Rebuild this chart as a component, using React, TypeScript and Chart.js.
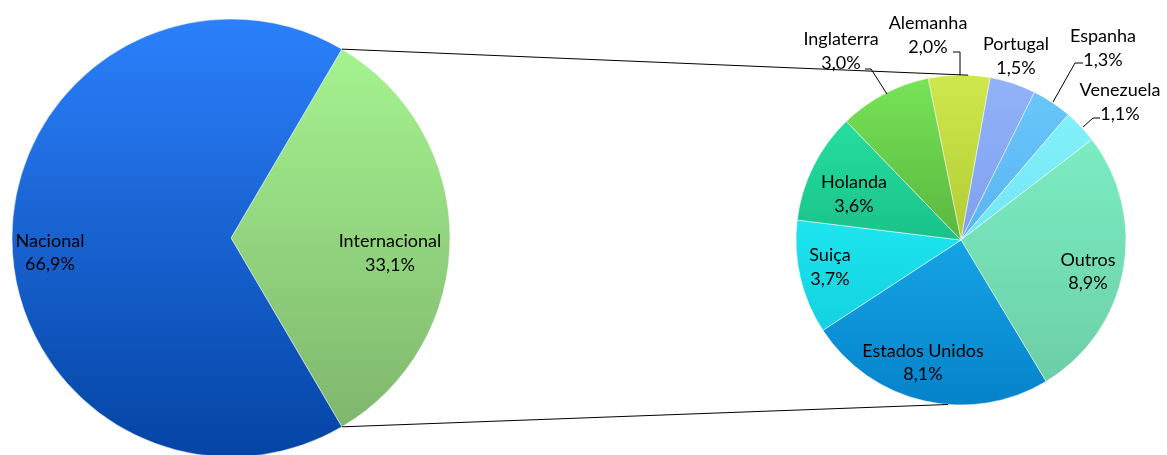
import React, { useEffect, useRef } from "react";
import { Chart, registerables } from "chart.js";

Chart.register(...registerables);

// ---- data ----
const mainLabels = ["Internacional", "Nacional"];
const mainValues = [33.1, 66.9];

const detailLabels = ["Alemanha", "Portugal", "Espanha", "Venezuela", "Outros", "Estados Unidos", "Suiça", "Holanda", "Inglaterra"];
const detailValues = [2.0, 1.5, 1.3, 1.1, 8.9, 8.1, 3.7, 3.6, 3.0];

// ---- styles / layout ----
const W = 1167;
const H = 455;
const FONT = "18px Lato";
const LINE_GAP = 11.75;

const mainRadius = 219;
const detailRadius = 165;

const mainColors: [string, string][] = [
  ["#a8f892", "#7cb26a"],
  ["#2c80fc", "#0444a4"],
];
const detailColors: [string, string][] = [
  ["#cee84c", "#98b020"],
  ["#92b2f8", "#6a8ee8"],
  ["#6ac8fa", "#4aa0e8"],
  ["#86f4fa", "#60d8f0"],
  ["#80f4ca", "#6acca4"],
  ["#24c6ff", "#0682ca"],
  ["#2affff", "#0cc4d8"],
  ["#2ae8a8", "#0a9c6a"],
  ["#78e458", "#3a8a24"],
];

// label anchors relative to the pie centre (dx, dy of the block centre), optional leader polyline
type LabelPos = { dx: number; dy: number; leader?: [number, number][] };
const mainLabelPos: LabelPos[] = [
  { dx: 159, dy: 21 },
  { dx: -181, dy: 20.5 },
];
const detailLabelPos: LabelPos[] = [
  { dx: -33, dy: -199, leader: [[-8, -188], [-1, -188], [-1, -165]] },
  { dx: 55, dy: -178 },
  { dx: 142, dy: -186, leader: [[122, -177], [114, -177], [92, -138]] },
  { dx: 159, dy: -132, leader: [[139, -122], [132, -122], [122, -113]] },
  { dx: 127, dy: 37.5 },
  { dx: -38, dy: 128.5 },
  { dx: -131, dy: 33 },
  { dx: -107, dy: -40 },
  { dx: -120, dy: -183, leader: [[-96, -171], [-90, -171], [-74, -146]] },
];

const fmt = (v: number) => v.toFixed(1).replace(".", ",") + "%";

function gradientFill(colors: [string, string][], radius: number) {
  return (ctx: any) => {
    const chart = ctx.chart;
    const area = chart.chartArea;
    const pair = colors[ctx.dataIndex % colors.length];
    if (!area) return pair[0];
    const cy = (area.top + area.bottom) / 2;
    const g = chart.ctx.createLinearGradient(0, cy - radius, 0, cy + radius);
    g.addColorStop(0, pair[0]);
    g.addColorStop(1, pair[1]);
    return g;
  };
}

function labelPlugin(id: string, labels: string[], values: number[], pos: LabelPos[]) {
  return {
    id,
    afterDatasetsDraw(chart: any) {
      const meta = chart.getDatasetMeta(0);
      const arc0 = meta.data[0];
      if (!arc0) return;
      const cx = arc0.x;
      const cy = arc0.y;
      const ctx = chart.ctx;
      ctx.save();
      ctx.font = FONT;
      ctx.fillStyle = "#000";
      ctx.textAlign = "center";
      ctx.textBaseline = "alphabetic";
      ctx.strokeStyle = "#000";
      ctx.lineWidth = 1;
      labels.forEach((lab, i) => {
        const p = pos[i];
        const x = cx + p.dx;
        const y = cy + p.dy;
        ctx.fillText(lab, x, y - LINE_GAP);
        ctx.fillText(fmt(values[i]), x, y + LINE_GAP);
        if (p.leader) {
          ctx.beginPath();
          p.leader.forEach(([lx, ly], k) => {
            if (k === 0) ctx.moveTo(cx + lx, cy + ly);
            else ctx.lineTo(cx + lx, cy + ly);
          });
          ctx.stroke();
        }
      });
      ctx.restore();
    },
  };
}

export default function App() {
  const ref1 = useRef<HTMLCanvasElement>(null);
  const ref2 = useRef<HTMLCanvasElement>(null);

  useEffect(() => {
    if (!ref1.current || !ref2.current) return;
    const mainSpan = (mainValues[0] / (mainValues[0] + mainValues[1])) * 360;
    const chart1 = new Chart(ref1.current, {
      type: "pie",
      data: {
        labels: mainLabels,
        datasets: [
          {
            data: mainValues,
            backgroundColor: gradientFill(mainColors, mainRadius) as any,
            borderColor: "rgba(255,255,255,0.5)",
            borderWidth: 1,
            clip: false as any,
          },
        ],
      },
      options: {
        responsive: false,
        animation: false,
        radius: mainRadius,
        rotation: 90 - mainSpan / 2,
        layout: { padding: { left: 12, right: 717, top: 21, bottom: 0 } },
        plugins: { legend: { display: false }, tooltip: { enabled: false } },
      } as any,
      plugins: [labelPlugin("mainLabels", mainLabels, mainValues, mainLabelPos)],
    });

    const connector = {
      id: "connector",
      afterDraw(chart: any) {
        const a = chart1.getDatasetMeta(0).data[0] as any;
        const b = chart.getDatasetMeta(0).data[0] as any;
        if (!a || !b) return;
        const r1 = a.outerRadius;
        const p1 = [a.x + Math.cos(a.startAngle) * r1, a.y + Math.sin(a.startAngle) * r1];
        const p2 = [a.x + Math.cos(a.endAngle) * r1, a.y + Math.sin(a.endAngle) * r1];
        const r2 = b.outerRadius;
        const t = ((2.5 - 90) * Math.PI) / 180;
        const u = ((184.5 - 90) * Math.PI) / 180;
        const q1 = [b.x + Math.cos(t) * r2, b.y + Math.sin(t) * r2];
        const q2 = [b.x + Math.cos(u) * r2, b.y + Math.sin(u) * r2];
        const ctx = chart.ctx;
        ctx.save();
        ctx.strokeStyle = "#000";
        ctx.lineWidth = 1;
        ctx.beginPath();
        ctx.moveTo(p1[0], p1[1]);
        ctx.lineTo(q1[0], q1[1]);
        ctx.moveTo(p2[0], p2[1]);
        ctx.lineTo(q2[0], q2[1]);
        ctx.stroke();
        ctx.restore();
      },
    };

    const chart2 = new Chart(ref2.current, {
      type: "pie",
      data: {
        labels: detailLabels,
        datasets: [
          {
            data: detailValues,
            backgroundColor: gradientFill(detailColors, detailRadius) as any,
            borderColor: "rgba(255,255,255,0.5)",
            borderWidth: 1,
            clip: false as any,
          },
        ],
      },
      options: {
        responsive: false,
        animation: false,
        radius: detailRadius,
        rotation: -11.5,
        layout: { padding: { left: 796, right: 41, top: 25, bottom: 0 } },
        plugins: { legend: { display: false }, tooltip: { enabled: false } },
      } as any,
      plugins: [connector, labelPlugin("detailLabels", detailLabels, detailValues, detailLabelPos)],
    });

    return () => {
      chart2.destroy();
      chart1.destroy();
    };
  }, []);

  return (
    <div style={{ position: "fixed", left: 0, top: 0, width: W, height: H, overflow: "hidden", background: "#fff" }}>
      <canvas ref={ref1} width={W} height={H} style={{ position: "absolute", left: 0, top: 0 }} />
      <canvas ref={ref2} width={W} height={H} style={{ position: "absolute", left: 0, top: 0 }} />
    </div>
  );
}
